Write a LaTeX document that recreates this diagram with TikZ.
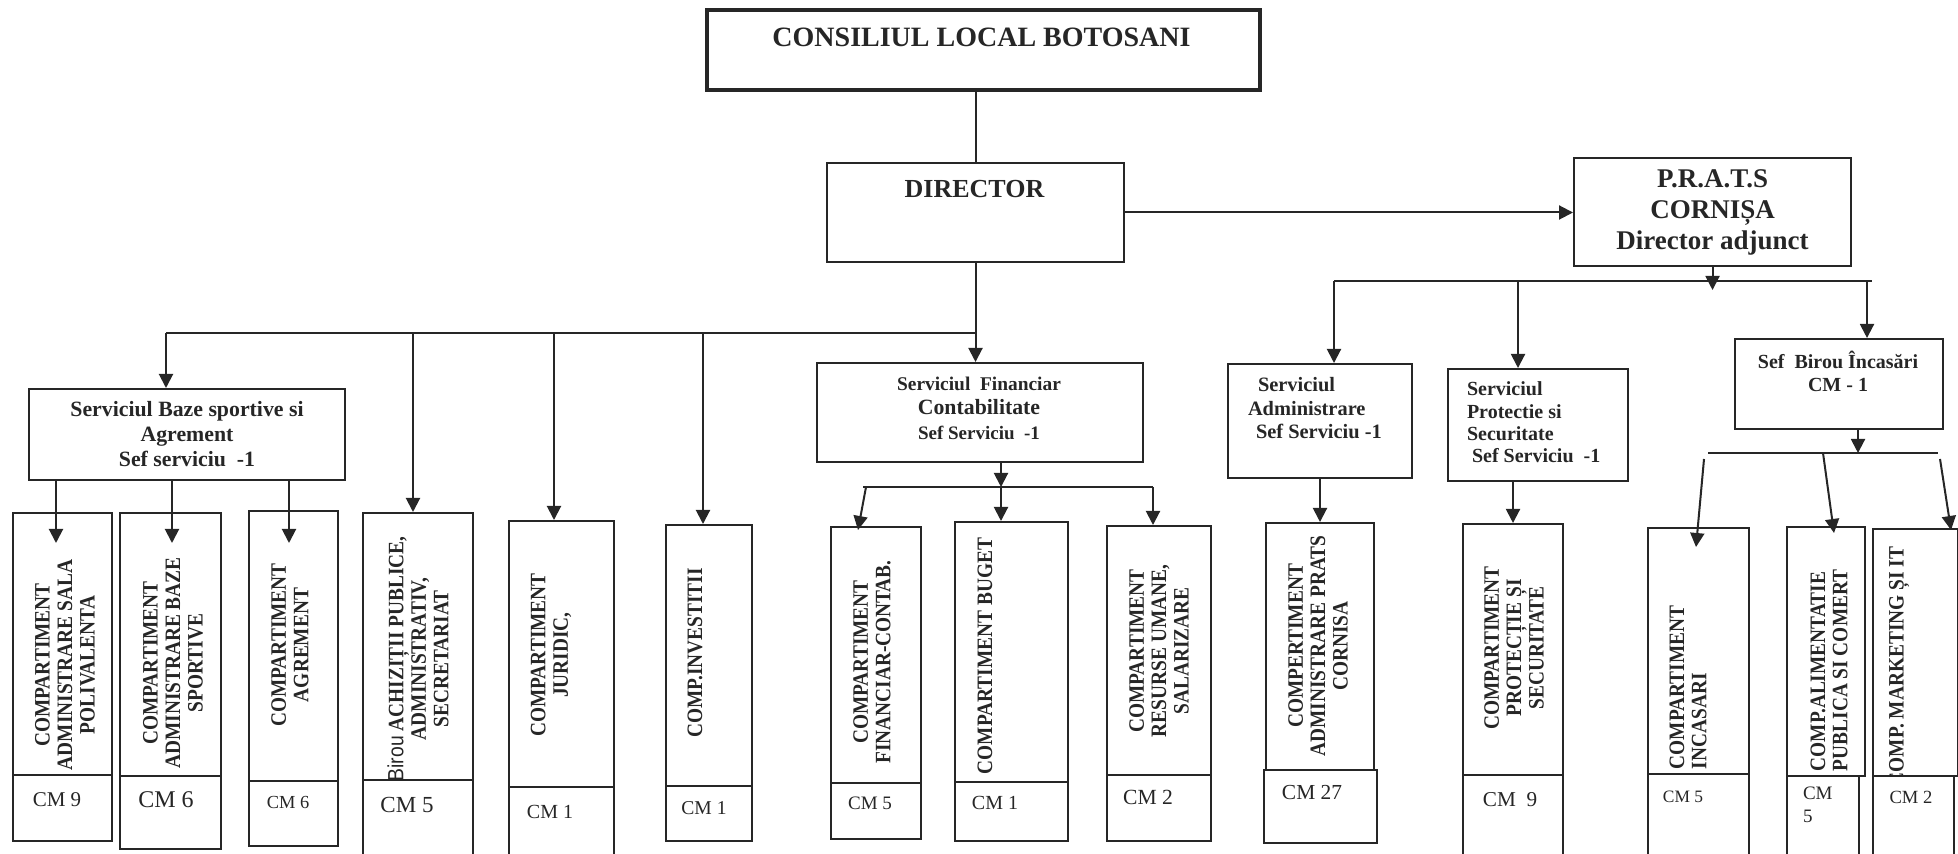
\documentclass[tikz,border=0pt]{standalone}
\usepackage{fontspec}
\setmainfont{Liberation Serif}
\newfontfamily\arialfont{Liberation Sans}
\usetikzlibrary{arrows.meta}
\definecolor{ink}{RGB}{38,38,38}

\begin{document}
\begin{tikzpicture}[x=0.5pt, y=-0.5pt, line width=1pt, color=ink,
  box/.style={draw, anchor=north west, inner sep=0pt},
  arr/.style={-{Triangle[width=7pt,length=7pt]}},
  head/.style={inner sep=0pt, align=center, font=\bfseries\fontsize{10.5}{12.25}\selectfont},
  vtxt/.style={rotate=90, xscale=0.88, align=center, inner sep=0pt, font=\bfseries\fontsize{11}{11.2}\selectfont},
  cmtxt/.style={inner sep=0pt, font=\fontsize{10}{11.5}\selectfont}]
  \useasboundingbox (0,0) rectangle (1958,854);
  \clip (0,0) rectangle (1958,854);

  % top
  \node[box, line width=1.8pt, minimum width=276.5pt, minimum height=40pt] (council) at (705,8) {};
  \node[head, font=\bfseries\fontsize{14}{16}\selectfont] (councilt) at (981.5,37) {CONSILIUL LOCAL BOTOSANI};
  \node[box, minimum width=148.5pt, minimum height=49.5pt] (director) at (826,162) {};
  \node[head, font=\bfseries\fontsize{13}{15}\selectfont] (directort) at (974.5,189) {DIRECTOR};
  \node[box, minimum width=138.5pt, minimum height=54pt, align=center,
        font=\bfseries\fontsize{13.5}{15.5}\selectfont] (prats) at (1573,157) {P.R.A.T.S\\CORNIȘA\\Director adjunct};

  % servicii
  \node[box, minimum width=158pt, minimum height=45.5pt, align=center,
        font=\bfseries\fontsize{10.9}{12.5}\selectfont] (sbaze) at (28,388) {Serviciul Baze sportive si\\Agrement\\Sef serviciu~~-1};
  \node[box, minimum width=163pt, minimum height=49.5pt] (sfin) at (816,362) {};
  \node[head] (sfint) at (979,408) {{\fontsize{9.7}{12.25}\selectfont Serviciul~~Financiar}\\{\fontsize{10.9}{12.25}\selectfont Contabilitate}\\{\fontsize{9.5}{12.25}\selectfont Sef Serviciu~~-1}};
  \node[box, minimum width=92pt, minimum height=57pt] (sadm) at (1227,363) {};
  \node[head, align=left, anchor=west, font=\bfseries\fontsize{10.2}{11.75}\selectfont] (sadmt) at (1247,408.5) {\hspace*{5pt}Serviciul\\Administrare\\\hspace*{4pt}Sef Serviciu -1};
  \node[box, minimum width=90pt, minimum height=56pt] (sprot) at (1447,368) {};
  \node[head, align=left, anchor=west, font=\bfseries\fontsize{10}{11.2}\selectfont] (sprott) at (1466,422.5) {Serviciul\\Protectie si\\Securitate\\\hspace*{2.5pt}Sef Serviciu~~-1};
  \node[box, minimum width=104pt, minimum height=45pt] (sbirou) at (1734,338) {};
  \node[head, font=\bfseries\fontsize{10}{11.5}\selectfont] (sbiroult) at (1838,371.5) {Sef~~Birou Încasări\\CM - 1};

  % compartimente
  \node[box, minimum width=49.5pt, minimum height=131pt] (b1) at (12,512) {};
  \node[box, minimum width=50.5pt, minimum height=131.5pt] (b2) at (119,512) {};
  \node[box, minimum width=44.5pt, minimum height=135pt] (b3) at (248,510) {};
  \node[box, minimum width=55pt, minimum height=133.5pt] (b4) at (362,512) {};
  \node[box, minimum width=52.5pt, minimum height=133pt] (b5) at (508,520) {};
  \node[box, minimum width=43pt, minimum height=130.5pt] (b6) at (665,524) {};
  \node[box, minimum width=45pt, minimum height=128pt] (b7) at (830,526) {};
  \node[box, minimum width=56.5pt, minimum height=130pt] (b8) at (954,521) {};
  \node[box, minimum width=52pt, minimum height=124.5pt] (b9) at (1106,525) {};
  \node[box, minimum width=54pt, minimum height=123.5pt] (b10) at (1265,522) {};
  \node[box, minimum width=50pt, minimum height=125.5pt] (b11) at (1462,523) {};
  \node[box, minimum width=50.5pt, minimum height=123pt] (b12) at (1647,527) {};
  \node[box, minimum width=39pt, minimum height=124.5pt] (b13) at (1786,526) {};
  \node[box, minimum width=42.5pt, minimum height=123.5pt] (b14) at (1872,528) {};

  \node[vtxt] (b1t) at (65,665) {COMPARTIMENT\\ADMINISTRARE SALA\\POLIVALENTA};
  \node[vtxt] (b2t) at (173,663) {COMPARTIMENT\\ADMINISTRARE BAZE\\SPORTIVE};
  \node[vtxt] (b3t) at (290,645) {COMPARTIMENT\\AGREMENT};
  \node[vtxt] (b4t) at (418,659) {{\arialfont\mdseries Birou} ACHIZIȚII PUBLICE,\\ADMINISTRATIV,\\SECRETARIAT};
  \node[vtxt] (b5t) at (551,655) {COMPARTIMENT\\JURIDIC,};
  \node[vtxt] (b6t) at (695,653) {COMP.INVESTITII};
  \node[vtxt] (b7t) at (872,662) {COMPARTIMENT\\FINANCIAR-CONTAB.};
  \node[vtxt] (b8t) at (985,656) {COMPARTIMENT BUGET};
  \node[vtxt] (b9t) at (1159,651) {COMPARTIMENT\\RESURSE UMANE,\\SALARIZARE};
  \node[vtxt] (b10t) at (1318,646) {COMPERTIMENT\\ADMINISTRARE PRATS\\CORNISA};
  \node[vtxt] (b11t) at (1514,648) {COMPARTIMENT\\PROTECȚIE ȘI\\SECURITATE};
  \node[vtxt, align=left, anchor=west] (b12t) at (1688,770) {COMPARTIMENT\\INCASARI};
  \node[vtxt, align=left, anchor=west] (b13t) at (1829,772) {COMP.ALIMENTATIE\\PUBLICA SI COMERT};
  \node[vtxt, align=left, anchor=west] (b14t) at (1899,787) {COMP. MARKETING ȘI IT};

  % posturi
  \node[box, fill=white, minimum width=49.5pt, minimum height=33pt] (b1cm) at (12,774) {};
  \node[box, fill=white, minimum width=50.5pt, minimum height=36.5pt] (b2cm) at (119,775) {};
  \node[box, fill=white, minimum width=44.5pt, minimum height=32.5pt] (b3cm) at (248,780) {};
  \node[box, fill=white, minimum width=55pt, minimum height=45pt] (b4cm) at (362,779) {};
  \node[box, fill=white, minimum width=52.5pt, minimum height=42pt] (b5cm) at (508,786) {};
  \node[box, fill=white, minimum width=43pt, minimum height=27.5pt] (b6cm) at (665,785) {};
  \node[box, fill=white, minimum width=45pt, minimum height=28pt] (b7cm) at (830,782) {};
  \node[box, fill=white, minimum width=56.5pt, minimum height=29.5pt] (b8cm) at (954,781) {};
  \node[box, fill=white, minimum width=52pt, minimum height=33pt] (b9cm) at (1106,774) {};
  \node[box, fill=white, minimum width=56.5pt, minimum height=36.5pt] (b10cm) at (1263,769) {};
  \node[box, fill=white, minimum width=50pt, minimum height=45pt] (b11cm) at (1462,774) {};
  \node[box, fill=white, minimum width=50.5pt, minimum height=45pt] (b12cm) at (1647,773) {};
  \node[box, fill=white, minimum width=36pt, minimum height=45pt] (b13cm) at (1786,775) {};
  \node[box, fill=white, minimum width=40.5pt, minimum height=45pt] (b14cm) at (1872,775) {};

  \node[cmtxt, font=\fontsize{10.5}{12}\selectfont] (b1n) at (57,800) {CM 9};
  \node[cmtxt, font=\fontsize{12}{14}\selectfont] (b2n) at (166,800) {CM 6};
  \node[cmtxt, font=\fontsize{9.2}{11}\selectfont] (b3n) at (288,802) {CM 6};
  \node[cmtxt, font=\fontsize{11.5}{13}\selectfont] (b4n) at (407,805) {CM 5};
  \node[cmtxt] (b5n) at (550,812) {CM 1};
  \node[cmtxt, font=\fontsize{9.8}{11}\selectfont] (b6n) at (704,808) {CM 1};
  \node[cmtxt, font=\fontsize{9.5}{11}\selectfont] (b7n) at (870,803) {CM 5};
  \node[cmtxt] (b8n) at (995,803) {CM 1};
  \node[cmtxt, font=\fontsize{10.8}{12}\selectfont] (b9n) at (1148,797) {CM 2};
  \node[cmtxt, font=\fontsize{10.7}{12}\selectfont] (b10n) at (1312,793) {CM 27};
  \node[cmtxt, font=\fontsize{10.6}{12}\selectfont] (b11n) at (1510,800) {CM~~9};
  \node[cmtxt, font=\fontsize{8.7}{10}\selectfont] (b12n) at (1683,797) {CM 5};
  \node[cmtxt, align=left, anchor=west, font=\fontsize{9.5}{11.5}\selectfont] (b13n) at (1802,805) {CM\\5};
  \node[cmtxt, font=\fontsize{9.3}{11}\selectfont] (b14n) at (1911,797) {CM 2};

  % legaturi director
  \draw (director.north) -- (director.north |- council.south);
  \draw[arr] (director.east) -- (director.east -| prats.west);
  \draw[arr] (director.south) -- (director.south |- sfin.north);
  \coordinate (busL) at (166,333);
  \draw (busL) -- (busL -| director.south);
  \draw[arr] (busL) -- (busL |- sbaze.north);
  \coordinate (bus4) at (413,333);
  \draw[arr] (bus4) -- (bus4 |- b4.north);
  \coordinate (bus5) at (554,333);
  \draw[arr] (bus5) -- (bus5 |- b5.north);
  \coordinate (bus6) at (703,333);
  \draw[arr] (bus6) -- (bus6 |- b6.north);

  % baze sportive
  \coordinate (t1) at (56,543);
  \draw[arr] (t1 |- sbaze.south) -- (t1);
  \coordinate (t2) at (172,543);
  \draw[arr] (t2 |- sbaze.south) -- (t2);
  \coordinate (t3) at (289,543);
  \draw[arr] (t3 |- sbaze.south) -- (t3);

  % financiar
  \coordinate (fbusL) at (863,487);
  \coordinate (fbusR) at (1153,487);
  \coordinate (fmid) at (1001,487);
  \draw (fbusL) -- (fbusR);
  \draw[arr] (fmid |- sfin.south) -- (fmid);
  \draw[arr] (fmid) -- (fmid |- b8.north);
  \draw[arr] ([shift={(3,0)}]fbusL) -- ([shift={(-18,4)}]b7.north);
  \draw[arr] (fbusR) -- (fbusR |- b9.north);

  % prats
  \coordinate (pbusL) at (1334,281);
  \coordinate (pbusR) at (1872,281);
  \draw (pbusL) -- (pbusR);
  \draw[arr] (prats.south) -- ++(0,23);
  \draw[arr] (pbusL) -- (pbusL |- sadm.north);
  \coordinate (pb2) at (1518,281);
  \draw[arr] (pb2) -- (pb2 |- sprot.north);
  \coordinate (pb3) at (1867,281);
  \draw[arr] (pb3) -- (pb3 |- sbirou.north);
  \draw[arr] (sadm.south) -- (sadm.south |- b10.north);
  \draw[arr] (sprot.south -| b11.north) -- (b11.north);

  % birou incasari
  \coordinate (bbusL) at (1708,453);
  \coordinate (bbusR) at (1938,453);
  \coordinate (bmid) at (1858,453);
  \draw (bbusL) -- (bbusR);
  \draw[arr] (bmid |- sbirou.south) -- (bmid);
  \draw[arr] ([shift={(-4,6)}]bbusL) -- ([shift={(-2.5,20)}]b12.north);
  \coordinate (bb2) at (1823,453);
  \draw[arr] (bb2) -- ([shift={(8,7)}]b13.north);
  \draw[arr] ([shift={(2,6)}]bbusR) -- ([shift={(-8,2)}]b14.north east);
\end{tikzpicture}
\end{document}
